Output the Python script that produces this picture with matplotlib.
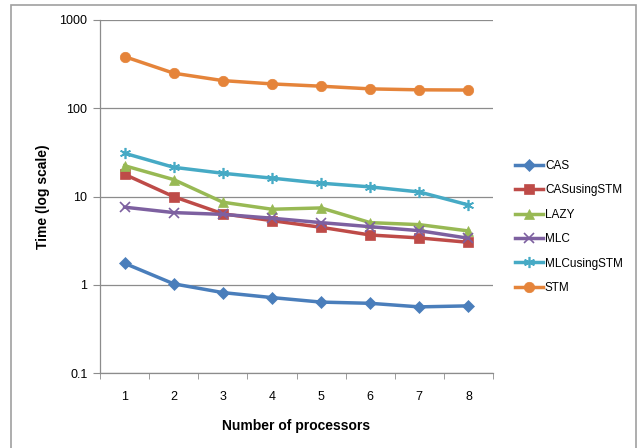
import matplotlib.pyplot as plt
from matplotlib.patches import Rectangle

plt.rcParams['font.family'] = ['Liberation Sans', 'DejaVu Sans']

# data
processors = [1, 2, 3, 4, 5, 6, 7, 8]
cas = [1.76, 1.03, 0.82, 0.72, 0.64, 0.62, 0.565, 0.58]
cas_stm = [17.9, 10.0, 6.4, 5.35, 4.5, 3.68, 3.41, 3.04]
lazy = [22.4, 15.6, 8.65, 7.2, 7.45, 5.08, 4.82, 4.09]
mlc = [7.6, 6.6, 6.3, 5.7, 5.08, 4.57, 4.12, 3.38]
mlc_stm = [31.0, 21.5, 18.4, 16.2, 14.2, 12.9, 11.3, 8.05]
stm = [385, 250, 206, 189, 178, 166, 162, 161]

series = [
    ("CAS", cas, "#4A7EBB", "D", 6),
    ("CASusingSTM", cas_stm, "#BE4B48", "s", 6.5),
    ("LAZY", lazy, "#98B954", "^", 7),
    ("MLC", mlc, "#7D60A0", "x", 7),
    ("MLCusingSTM", mlc_stm, "#46AAC5", (6, 2, 0), 8),
    ("STM", stm, "#E5843A", "o", 7.5),
]

fig = plt.figure(figsize=(6.37, 4.48), dpi=100)
fig.patches.append(Rectangle((11 / 637, -0.1), 625 / 637, 1.1 - 5 / 448,
                             transform=fig.transFigure, fill=False,
                             edgecolor="#A0A0A0", linewidth=1.2))
ax = fig.add_axes([100 / 637, 1 - 373.3 / 448, 393 / 637, 353.3 / 448])

for name, vals, col, mk, ms in series:
    ax.plot(processors, vals, color=col, linewidth=2.5, marker=mk,
            markersize=ms, markeredgewidth=1.2 if mk in ("x", (6, 2, 0)) else 0.5,
            markeredgecolor=col, label=name)

ax.set_yscale("log")
ax.set_ylim(0.1, 1000)
ax.set_xlim(0.5, 8.5)
ax.set_yticks([0.1, 1, 10, 100, 1000])
ax.set_yticklabels(["0.1", "1", "10", "100", "1000"])
ax.minorticks_off()
ax.yaxis.grid(True, color="#8C8C8C", linewidth=0.9)
ax.set_axisbelow(True)

ax.set_xticks(processors)
ax.set_xticklabels([str(p) for p in processors])
ax.tick_params(axis="x", length=0, pad=13, labelsize=9)
ax.set_xticks([p + 0.5 for p in range(0, 9)], minor=True)
ax.tick_params(axis="x", which="minor", length=4, color="#8C8C8C", direction="out")
ax.tick_params(axis="y", length=5, color="#8C8C8C", labelsize=9, pad=4)

for s in ("top", "right"):
    ax.spines[s].set_visible(False)
for s in ("left", "bottom"):
    ax.spines[s].set_color("#8C8C8C")
    ax.spines[s].set_linewidth(0.9)

ax.set_xlabel("Number of processors", fontsize=10, fontweight="bold", labelpad=11)
ax.set_ylabel("Time (log scale)", fontsize=10, fontweight="bold", labelpad=7)

ax.legend(loc="center left", bbox_to_anchor=(1.03, 0.414), frameon=False,
          fontsize=8.5, handlelength=2.3, labelspacing=1.05, handletextpad=0.2)

fig.savefig("out.png", dpi=100)
